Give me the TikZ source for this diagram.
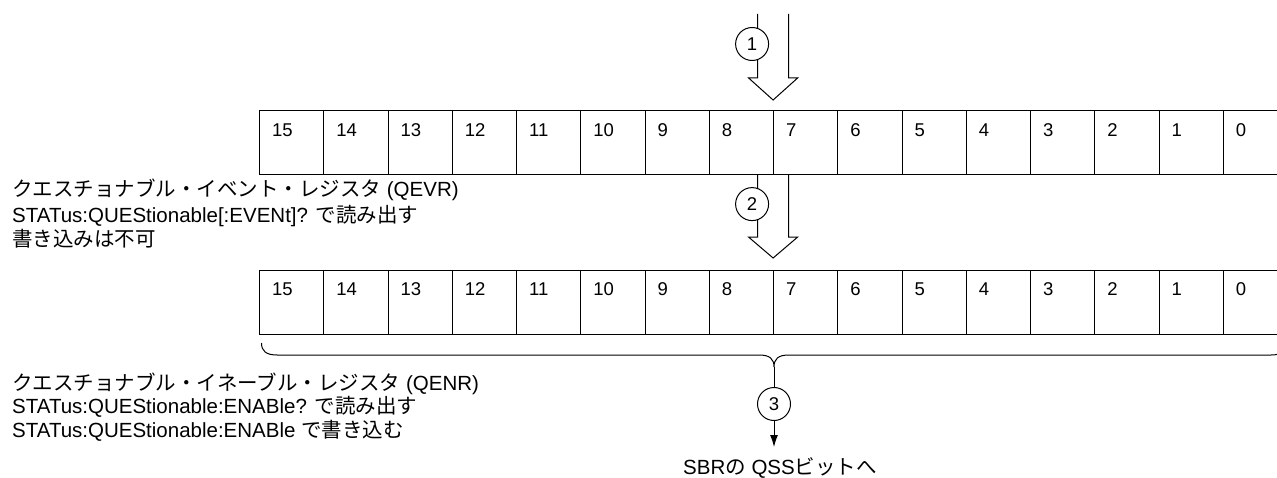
\documentclass[tikz,border=0pt]{standalone}
\usepackage{fontspec}
\setmainfont{Liberation Sans}
\newfontfamily\jpfont{Noto Sans CJK JP}
\newcommand{\jp}[1]{{\jpfont #1}}
\usetikzlibrary{positioning,calc,arrows.meta}

\begin{document}
\begin{tikzpicture}[x=1pt, y=-1pt,
    bitcell/.style={draw, line width=1.1pt, minimum width=64.25pt, minimum height=64pt, inner sep=0pt, anchor=north west},
    bitnum/.style={anchor=base west, inner sep=0pt, font=\fontsize{18.5}{20}\selectfont},
    stepcirc/.style={circle, draw, fill=white, line width=1pt, minimum size=33pt, inner sep=0pt, font=\fontsize{18.5}{20}\selectfont},
    note/.style={anchor=base west, inner sep=0pt, font=\fontsize{20.5}{24}\selectfont},
    hollow/.style={line width=1pt, line join=miter}]

    \useasboundingbox (0,0) rectangle (1277,478);
    \clip (0,0) rectangle (1277,478);

    % Event register (QEVR)
    \foreach \i in {0,...,15} {
        \pgfmathtruncatemacro{\bit}{15-\i}
        \node[bitcell] (ev\bit) at (259+64.25*\i,110) {};
        \node[bitnum] (evn\bit) at ($(ev\bit.north west)+(13,26.5)$) {\bit};
    }

    % Enable register (QENR)
    \foreach \i in {0,...,15} {
        \pgfmathtruncatemacro{\bit}{15-\i}
        \node[bitcell] (en\bit) at (259+64.25*\i,270) {};
        \node[bitnum] (enn\bit) at ($(en\bit.north west)+(13,25.5)$) {\bit};
    }

    % Step 1: into the QEVR
    \coordinate (in1) at ($(ev8.north east)+(-1,-96)$);
    \draw[hollow] ($(in1)+(-15.5,0)$) -- ++(0,64) -- ++(-9,0) -- ($(ev8.north east)+(-1,-10)$)
        -- ($(in1)+(24.5,64)$) -- ++(-9,0) -- ($(in1)+(15.5,0)$);
    \node[stepcirc] (s1) at ($(in1)+(-21,30)$) {1};

    % Step 2: QEVR to QENR
    \coordinate (in2) at ($(ev8.south east)+(-1,0)$);
    \draw[hollow] ($(in2)+(-15.5,0)$) -- ++(0,62) -- ++(-9,0) -- ($(en8.north east)+(-1,-12)$)
        -- ($(in2)+(24.5,62)$) -- ++(-9,0) -- ($(in2)+(15.5,0)$);
    \node[stepcirc] (s2) at ($(in2)+(-21,29)$) {2};

    % Brace under QENR
    \draw[line width=1pt] (261.5,343) .. controls (261.5,351) and (266,355) .. (277,355) -- (759,355)
        .. controls (770,355) and (774,359) .. (774,367)
        .. controls (774,359) and (778,355) .. (789,355) -- (1271,355)
        .. controls (1282,355) and (1284.5,351) .. (1284.5,343);
    \coordinate (brtip) at (774,367);

    % Step 3: to the SBR
    \node[stepcirc] (s3) at (774,404) {3};
    \coordinate (out3) at (774,447);
    \draw[line width=1pt] (brtip) -- (s3);
    \draw[line width=1pt, -{Latex[length=12pt, width=8pt]}] (s3) -- (out3);
    \node[font=\fontsize{20.5}{24}\selectfont, inner sep=0pt, anchor=base] (sbr) at (780,474) {SBR\jp{の} QSS\jp{ビットへ}};

    % Notes
    \node[note] (qevrA) at (12,197) {\jp{クエスチョナブル・イベント・レジスタ} (QEVR)};
    \node[note] (qevrB) at (12,222.5) {STATus:QUEStionable[:EVENt]? \jp{で読み出す}};
    \node[note] (qevrC) at (12,247) {\jp{書き込みは不可}};
    \node[note] (qenrA) at (12,390.5) {\jp{クエスチョナブル・イネーブル・レジスタ} (QENR)};
    \node[note] (qenrB) at (12,413.5) {STATus:QUEStionable:ENABle? \jp{で読み出す}};
    \node[note] (qenrC) at (12,437) {STATus:QUEStionable:ENABle \jp{で書き込む}};
\end{tikzpicture}
\end{document}
